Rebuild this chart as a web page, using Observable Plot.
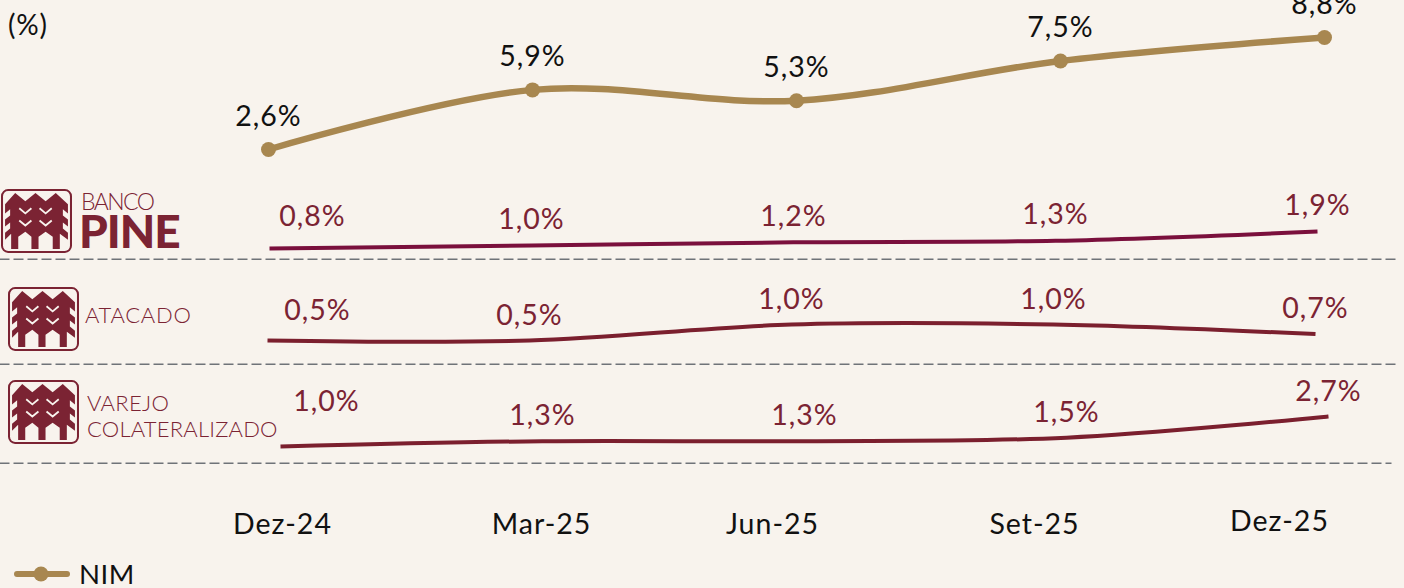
<!DOCTYPE html>
<html lang="pt">
<head>
<meta charset="utf-8">
<script src="https://cdn.jsdelivr.net/npm/d3@7"></script>
<script src="https://cdn.jsdelivr.net/npm/@observablehq/plot@0.6"></script>
<style>
html,body{margin:0;padding:0;background:#f8f3ed;overflow:hidden}
#page{position:relative;width:1404px;height:588px;overflow:hidden;font-family:Lato,sans-serif;background:#f8f3ed}
#page>svg,#page>figure{position:absolute;margin:0}
.t{position:absolute;white-space:nowrap;line-height:1;color:#7b2333}
svg text{letter-spacing:1px}
</style>
</head>
<body>
<svg width="0" height="0" style="position:absolute">
  <symbol id="pine" viewBox="0 0 70 63">
    <rect x="1" y="1" width="68" height="61" rx="6" fill="none" stroke="#7b2333" stroke-width="2"/>
    <path fill="#7b2333" d="M4,15 L14,4 L24,12 L34,4 L44,12 L54,4 L66,15 L66,24 L61,20 L61,26 L66,30 L66,37 L61,33 L61,39 L66,43 L66,50 L58,44 L58,59 L51,59 L51,47 L44,42 L37,47 L37,59 L30,59 L30,47 L24,42 L17,47 L17,59 L10,59 L10,44 L4,50 L4,43 L9,39 L9,33 L4,37 L4,30 L9,26 L9,20 L4,24 Z"/>
    <path fill="none" stroke="#f8f3ed" stroke-width="1.8" d="M18,19 L24,24 L30,19 M38,19 L44,24 L50,19 M18,31 L24,36 L30,31 M38,31 L44,36 L50,31"/>
  </symbol>
</svg>
<div id="page"></div>
<script>
const categories = ["Dez-24", "Mar-25", "Jun-25", "Set-25", "Dez-25"];
const nim = [2.6, 5.9, 5.3, 7.5, 8.8];
const bancoPine = [0.8, 1.0, 1.2, 1.3, 1.9];
const atacado = [0.5, 0.5, 1.0, 1.0, 0.7];
const varejo = [1.0, 1.3, 1.3, 1.5, 2.7];

const W = 1404;
const font = "Lato, sans-serif";
const page = document.getElementById("page");
const pct = v => v.toFixed(1).replace(".", ",") + "%";
const rows = vals => categories.map((c, i) => ({c, v: vals[i], i}));

function panel({vals, top, height, xr, yd, yr, color, sw, textColor, dy, first, dots, rule, mr}) {
  const data = rows(vals);
  const marks = [
    Plot.line(data, {x: "c", y: "v", curve: "catmull-rom", stroke: color, strokeWidth: sw, strokeLinecap: "butt"}),
    Plot.text(data.slice(1), {x: "c", y: "v", text: d => pct(d.v), dy, fill: textColor, fontSize: 28.5, lineAnchor: "middle"}),
    Plot.text(data.slice(0, 1), {x: "c", y: "v", text: d => pct(d.v), dx: first.dx, dy: first.dy, fill: textColor, fontSize: 28.5, lineAnchor: "middle"})
  ];
  if (dots) marks.push(Plot.dot(data, {x: "c", y: "v", r: 7.5, fill: color}));
  if (rule) marks.push(Plot.frame({anchor: "bottom", stroke: "#6f7378", strokeWidth: 2, strokeDasharray: "8,6"}));
  const p = Plot.plot({
    width: W, height, marginTop: 0, marginLeft: 0, marginBottom: 1, marginRight: mr ?? 8,
    style: {background: "transparent", fontFamily: font, overflow: "hidden"},
    x: {type: "point", domain: categories, range: xr, padding: 0, axis: null},
    y: {domain: yd, range: yr.map(v => v - top), axis: null},
    marks
  });
  p.style.position = "absolute"; p.style.left = "0"; p.style.top = top + "px";
  page.appendChild(p);
}

panel({vals: nim, top: 0, height: 182, xr: [267.5, 1325], yd: [2.6, 8.8], yr: [149, 37], color: "#a88750", sw: 6.5, textColor: "#111", dy: -33, first: {dx: 0, dy: -33}, dots: true});
panel({vals: bancoPine, top: 180, height: 80, xr: [269, 1317], yd: [0.8, 1.9], yr: [248, 231], color: "#7a0f3c", sw: 4, textColor: "#7b2333", dy: -25.5, first: {dx: 43, dy: -31.5}, rule: true});
panel({vals: atacado, top: 260, height: 105, xr: [267, 1315], yd: [0.5, 1.0], yr: [340, 324], color: "#7b1f2e", sw: 4, textColor: "#7b2333", dy: -25, first: {dx: 50, dy: -29.5}, rule: true});
panel({vals: varejo, top: 365, height: 99, xr: [280, 1328], yd: [1.0, 2.7], yr: [446, 416], color: "#7b1f2e", sw: 4, textColor: "#7b2333", dy: -25, first: {dx: 46, dy: -44.5}, rule: true, mr: 14});

// x axis: the source's period labels sit unevenly, so the scale is piecewise
const axisPlot = Plot.plot({
  width: W, height: 124, margin: 0,
  style: {background: "transparent", fontFamily: font},
  x: {type: "linear", domain: [0, 1, 2, 3, 4], range: [282, 541, 772, 1034, 1279], axis: null},
  y: {domain: [0, 1], range: [124, 0], axis: null},
  marks: [
    Plot.text(categories.slice(0, 4), {x: (d, i) => i, frameAnchor: "top", dy: 60, text: d => d, fill: "#111", fontSize: 28.5, lineAnchor: "middle"}),
    Plot.text(categories.slice(4), {x: () => 4, frameAnchor: "top", dy: 57, text: d => d, fill: "#111", fontSize: 28.5, lineAnchor: "middle"})
  ]
});
axisPlot.style.position = "absolute"; axisPlot.style.left = "0"; axisPlot.style.top = "464px";
page.appendChild(axisPlot);

// logos, captions and legend
function icon(x, y) {
  const ns = "http://www.w3.org/2000/svg";
  const s = document.createElementNS(ns, "svg");
  s.setAttribute("width", 71); s.setAttribute("height", 64);
  s.style.left = x + "px"; s.style.top = y + "px";
  const u = document.createElementNS(ns, "use");
  u.setAttribute("href", "#pine");
  s.appendChild(u); page.appendChild(s);
}
icon(1, 189); icon(8, 287); icon(8, 380);

function label(text, x, yc, size, extra = {}) {
  const d = document.createElement("div");
  d.className = "t"; d.textContent = text;
  d.style.left = x + "px"; d.style.top = (yc - size / 2) + "px"; d.style.fontSize = size + "px";
  Object.assign(d.style, extra);
  page.appendChild(d);
}
label("BANCO", 81, 201.5, 23, {fontWeight: 300, letterSpacing: "-1.6px"});
label("PINE", 79, 231, 46, {fontWeight: 900, letterSpacing: "-1px"});
label("ATACADO", 85, 315, 22, {fontWeight: 300, letterSpacing: ".7px"});
label("VAREJO", 87, 403, 22, {fontWeight: 300, letterSpacing: ".3px"});
label("COLATERALIZADO", 87, 429, 22, {fontWeight: 300, letterSpacing: ".2px"});
label("(%)", 8, 24, 28, {color: "#111", letterSpacing: ".8px"});
label("NIM", 79, 574, 27.5, {color: "#111", letterSpacing: ".5px"});

const lg = document.createElementNS("http://www.w3.org/2000/svg", "svg");
lg.setAttribute("width", 60); lg.setAttribute("height", 24);
lg.style.left = "12px"; lg.style.top = "562px";
lg.innerHTML = '<line x1="5" x2="55" y1="12" y2="12" stroke="#a88750" stroke-width="6" stroke-linecap="round"/><circle cx="29" cy="12" r="7.5" fill="#a88750"/>';
page.appendChild(lg);
</script>
</body>
</html>
